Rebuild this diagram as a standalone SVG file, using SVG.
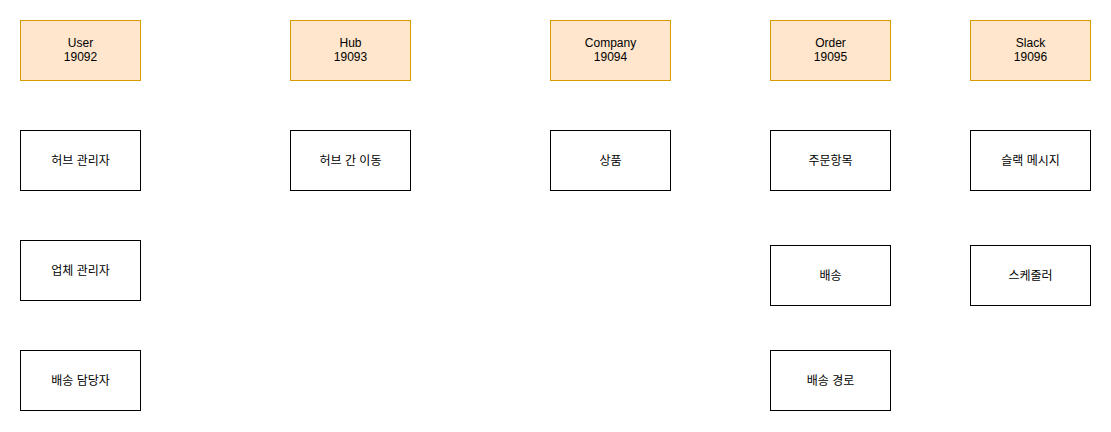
<svg xmlns="http://www.w3.org/2000/svg" width="1111" height="432" viewBox="0 0 1111 432">
<style>
.o{fill:#ffe6cc;stroke:#d79b00;stroke-width:1}
.w{fill:#ffffff;stroke:#000000;stroke-width:1}
text{font-family:"Liberation Sans","Noto Sans CJK KR",sans-serif;font-size:12px;fill:#000;text-anchor:middle}
</style>
<rect width="1111" height="432" fill="#ffffff"/>
<g id="connectors"/>
<g id="user"><rect class="o" x="20.5" y="20.5" width="120" height="60"/><text x="80.5" y="47">User</text><text x="80.5" y="61">19092</text></g>
<g id="hub"><rect class="o" x="290.5" y="20.5" width="120" height="60"/><text x="350.5" y="47">Hub</text><text x="350.5" y="61">19093</text></g>
<g id="company"><rect class="o" x="550.5" y="20.5" width="120" height="60"/><text x="610.5" y="47">Company</text><text x="610.5" y="61">19094</text></g>
<g id="order"><rect class="o" x="770.5" y="20.5" width="120" height="60"/><text x="830.5" y="47">Order</text><text x="830.5" y="61">19095</text></g>
<g id="slack"><rect class="o" x="970.5" y="20.5" width="120" height="60"/><text x="1030.5" y="47">Slack</text><text x="1030.5" y="61">19096</text></g>
<g id="hub-admin"><rect class="w" x="20.5" y="130.5" width="120" height="60"/><text x="80.5" y="164.5">허브 관리자</text></g>
<g id="vendor-admin"><rect class="w" x="20.5" y="240.5" width="120" height="60"/><text x="80.5" y="274.5">업체 관리자</text></g>
<g id="delivery-manager"><rect class="w" x="20.5" y="350.5" width="120" height="60"/><text x="80.5" y="384.5">배송 담당자</text></g>
<g id="hub-move"><rect class="w" x="290.5" y="130.5" width="120" height="60"/><text x="350.5" y="164.5">허브 간 이동</text></g>
<g id="product"><rect class="w" x="550.5" y="130.5" width="120" height="60"/><text x="610.5" y="164.5">상품</text></g>
<g id="order-item"><rect class="w" x="770.5" y="130.5" width="120" height="60"/><text x="830.5" y="164.5">주문항목</text></g>
<g id="delivery"><rect class="w" x="770.5" y="245.5" width="120" height="60"/><text x="830.5" y="279.5">배송</text></g>
<g id="delivery-route"><rect class="w" x="770.5" y="350.5" width="120" height="60"/><text x="830.5" y="384.5">배송 경로</text></g>
<g id="slack-message"><rect class="w" x="970.5" y="130.5" width="120" height="60"/><text x="1030.5" y="164.5">슬랙 메시지</text></g>
<g id="scheduler"><rect class="w" x="970.5" y="245.5" width="120" height="60"/><text x="1030.5" y="279.5">스케줄러</text></g>
</svg>
